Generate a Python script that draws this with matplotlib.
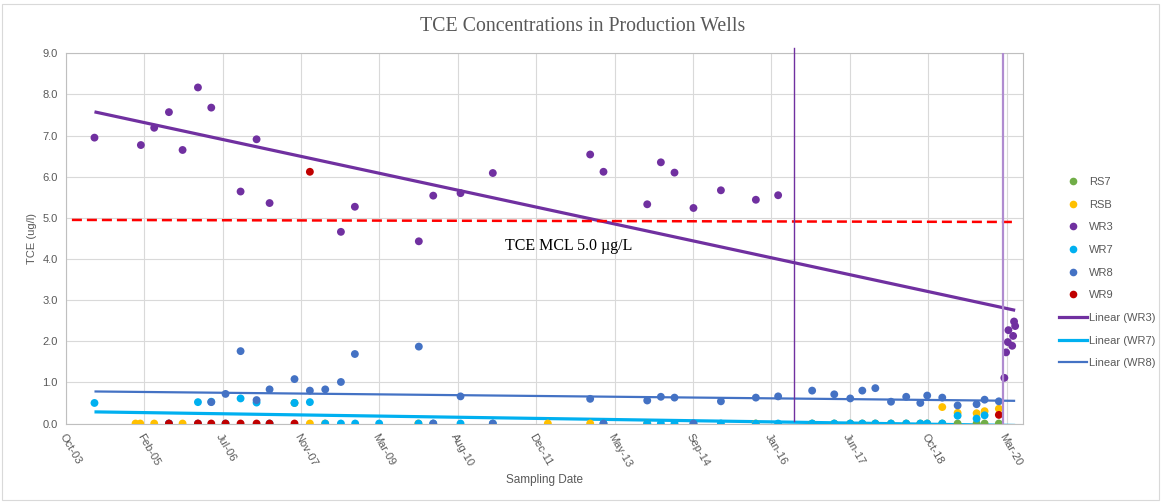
import numpy as np
import pandas as pd
import matplotlib
matplotlib.use("Agg")
import matplotlib.pyplot as plt
import matplotlib.dates as mdates
from matplotlib.lines import Line2D
from matplotlib.patches import Rectangle

# sampling data (zeros hidden under other wells' zeros included)
rs7_dates = ["2007-10-03", "2013-11-30", "2016-10-17", "2017-03-07", "2017-06-17", "2017-09-02",
             "2017-11-24", "2018-03-04", "2018-06-09", "2018-09-07", "2018-10-21", "2019-01-25",
             "2019-05-03", "2019-09-01", "2019-10-22", "2020-01-21"]
rs7_vals = [0.50, 0, 0, 0, 0, 0, 0, 0, 0, 0, 0, 0, 0, 0, 0, 0]

rsb_dates = ["2004-12-23", "2005-01-22", "2005-04-21", "2005-10-19", "2008-01-09", "2008-04-15",
             "2009-12-01", "2012-03-06", "2012-12-01", "2015-10-23", "2019-01-25", "2019-05-03",
             "2019-09-01", "2019-10-22", "2020-01-21"]
rsb_vals = [0, 0, 0, 0, 0, 0, 0, 0, 0, 0, 0.40, 0.26, 0.25, 0.30, 0.36]

wr3_dates = ["2004-04-05", "2005-01-26", "2005-04-21", "2005-07-24", "2005-10-19", "2006-01-25",
             "2006-04-20", "2006-10-24", "2007-02-03", "2007-04-27", "2008-07-25", "2008-10-22",
             "2009-12-04", "2010-03-06", "2010-08-27", "2011-03-21", "2012-12-01", "2013-02-24",
             "2013-11-30", "2014-02-25", "2014-05-23", "2014-09-21", "2015-03-15", "2015-10-24",
             "2016-03-14", "2020-02-25", "2020-03-07", "2020-03-18", "2020-03-22", "2020-04-15",
             "2020-04-21", "2020-04-27", "2020-05-04"]
wr3_vals = [6.95, 6.77, 7.19, 7.57, 6.65, 8.17, 7.68, 5.64, 6.91, 5.36, 4.66, 5.27,
            4.43, 5.54, 5.60, 6.09, 6.54, 6.12, 5.33, 6.35, 6.10, 5.24, 5.67, 5.44,
            5.55, 1.11, 1.73, 1.98, 2.27, 1.89, 2.13, 2.48, 2.37]

wr7_dates = ["2004-04-05", "2005-07-24", "2006-01-25", "2006-04-20", "2006-07-20", "2006-10-24",
             "2007-02-03", "2007-04-27", "2007-10-03", "2008-01-09", "2008-04-16", "2008-07-25",
             "2008-10-24", "2009-03-26", "2009-12-02", "2010-03-06", "2010-08-27", "2011-03-21",
             "2013-02-24", "2013-11-30", "2014-02-25", "2014-05-23", "2014-09-21", "2015-03-15",
             "2015-10-24", "2016-03-14", "2016-10-17", "2017-03-07", "2017-06-17", "2017-09-02",
             "2017-11-24", "2018-03-04", "2018-06-09", "2018-09-07", "2018-10-21", "2019-01-25",
             "2019-05-03", "2019-09-01", "2019-10-22"]
wr7_vals = [0.50, 0, 0.52, 0.53, 0, 0.61,
            0.51, 0, 0.50, 0.52, 0, 0,
            0, 0, 0, 0, 0, 0,
            0, 0, 0, 0, 0, 0,
            0, 0, 0, 0, 0, 0,
            0, 0, 0, 0, 0, 0,
            0.19, 0.12, 0.20]

wr8_dates = ["2005-07-24", "2006-01-25", "2006-04-20", "2006-07-20", "2006-10-24", "2007-02-03",
             "2007-04-27", "2007-10-03", "2008-01-09", "2008-04-16", "2008-07-25", "2008-10-22",
             "2009-12-04", "2010-03-06", "2010-08-27", "2011-03-21", "2012-12-01", "2013-02-24",
             "2013-11-30", "2014-02-25", "2014-05-23", "2014-09-21", "2015-03-15", "2015-10-24",
             "2016-03-14", "2016-10-17", "2017-03-07", "2017-06-17", "2017-09-02", "2017-11-24",
             "2018-03-04", "2018-06-09", "2018-09-07", "2018-10-21", "2019-01-25", "2019-05-03",
             "2019-09-01", "2019-10-22", "2020-01-21"]
wr8_vals = [0, 0, 0.52, 0.72, 1.76, 0.57, 0.83, 1.08, 0.80, 0.83, 1.01, 1.69, 1.87, 0,
            0.66, 0, 0.60, 0, 0.56, 0.65, 0.63, 0, 0.54, 0.63, 0.66, 0.80,
            0.71, 0.61, 0.80, 0.86, 0.53, 0.65, 0.50, 0.68, 0.63, 0.44, 0.47, 0.58,
            0.54]

wr9_dates = ["2005-07-24", "2006-01-25", "2006-04-20", "2006-07-20", "2006-10-24", "2007-02-03",
             "2007-04-27", "2007-10-03", "2008-01-09", "2020-01-21"]
wr9_vals = [0, 0, 0, 0, 0, 0, 0, 0, 6.12, 0.21]

mcl_dates = ["2003-11-13", "2020-04-21"]
mcl_vals = [4.95, 4.90]
marker_line_dates = ["2016-06-26", "2020-02-15"]
tick_start = "2003-10-06"

series = [
    ("RS7", rs7_dates, rs7_vals, "#70ad47"),
    ("RSB", rsb_dates, rsb_vals, "#ffc000"),
    ("WR3", wr3_dates, wr3_vals, "#7030a0"),
    ("WR7", wr7_dates, wr7_vals, "#00b0f0"),
    ("WR8", wr8_dates, wr8_vals, "#4472c4"),
    ("WR9", wr9_dates, wr9_vals, "#c00000"),
]
trends = [("WR3", "#7030a0", 2.3), ("WR7", "#00b0f0", 2.3), ("WR8", "#4472c4", 1.6)]

grey = "#595959"
fig = plt.figure(figsize=(11.61, 5.03), dpi=100)
ax = fig.add_axes([0.0568, 0.158, 0.8242, 0.736])

all_x = []
data = {}
for name, d, v, c in series:
    x = mdates.date2num(pd.to_datetime(d))
    data[name] = (x, np.array(v))
    all_x.extend(x)
    ax.scatter(x, v, s=32, color=c, edgecolors="none", zorder=4)

x0 = mdates.date2num(pd.Timestamp(wr3_dates[0]))
x1 = max(all_x)
for name, c, lw in trends:
    x, v = data[name]
    k, b = np.polyfit(x, v, 1)
    xs = np.array([x0, x1])
    ax.plot(xs, k * xs + b, color=c, lw=lw, zorder=3, solid_capstyle="butt")

# MCL line and label
ax.plot(pd.to_datetime(mcl_dates), mcl_vals, color="#ff0000", lw=1.8,
        dashes=(4, 2), zorder=3)
ax.text(pd.Timestamp("2011-06-08"), 4.32, "TCE MCL 5.0 µg/L", family="Liberation Serif",
        fontsize=11.5, color="black", va="center", ha="left")

# vertical marker lines
ml = pd.to_datetime(marker_line_dates)
ax.plot([ml[0], ml[0]], [0.06, 9.13], color="#7030a0", lw=1.0, clip_on=False, zorder=5)
ax.plot([ml[1], ml[1]], [0.0, 9.0], color="#b08cd0", lw=1.6, zorder=5)

ticks = pd.date_range(tick_start, periods=13, freq="500D")
ax.set_xticks(mdates.date2num(ticks))
ax.set_xticklabels([t.strftime("%b-%y") for t in ticks], rotation=-60,
                   ha="left", va="top", rotation_mode="anchor")
ax.set_xlim(mdates.date2num(pd.Timestamp(tick_start)), mdates.date2num(pd.Timestamp("2020-06-22")))
ax.set_ylim(0, 9)
ax.set_yticks(np.arange(0, 9.1, 1.0))
ax.set_yticklabels([f"{t:.1f}" for t in np.arange(0, 9.1, 1.0)])

ax.grid(True, color="#d9d9d9", lw=0.8)
ax.set_axisbelow(True)
for s in ax.spines.values():
    s.set_color("#bfbfbf")
ax.tick_params(length=0, colors=grey, labelsize=8, pad=6)
for lab in ax.get_xticklabels() + ax.get_yticklabels():
    lab.set_family("Liberation Sans")

ax.set_ylabel("TCE (ug/l)", color=grey, fontsize=8, family="Liberation Sans", labelpad=4)
fig.text(0.469, 0.045, "Sampling Date", color=grey, fontsize=8.5, family="Liberation Sans",
         ha="center", va="center")
fig.text(0.502, 0.947, "TCE Concentrations in Production Wells", color=grey, fontsize=14.3,
         family="Liberation Serif", ha="center", va="center")

handles = []
for name, d, v, c in series:
    handles.append(Line2D([], [], ls="none", marker="o", ms=5.5, color=c, mec="none", label=name))
for name, c, lw in trends:
    handles.append(Line2D([], [], color=c, lw=lw, label=f"Linear ({name})"))
leg = fig.legend(handles=handles, loc="upper left", bbox_to_anchor=(0.9085, 0.657),
                 frameon=False, prop={"family": "Liberation Sans", "size": 8},
                 labelspacing=1.14, handlelength=2.5, handletextpad=0.15, borderaxespad=0)
for t in leg.get_texts():
    t.set_color(grey)

fig.patches.append(Rectangle((0.002, 0.006), 0.996, 0.986, transform=fig.transFigure,
                             fill=False, edgecolor="#d9d9d9", lw=0.8))
fig.savefig("out.png", dpi=100)
